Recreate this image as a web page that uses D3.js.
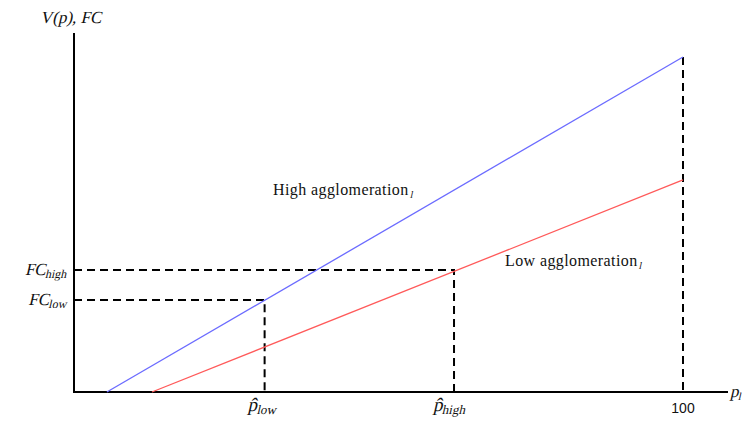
<!DOCTYPE html>
<html lang="en">
<head>
<meta charset="UTF-8">
<script src="https://cdn.jsdelivr.net/npm/d3@7"></script>
<title>agglomeration chart</title>
<style>
  body { margin: 0; background: #fff; }
  text { font-family: "Liberation Serif", "DejaVu Serif", serif; fill: #111; }
</style>
</head>
<body>
<svg width="747" height="421"></svg>
<script>
    // lines: [p at V=0, V at p=100]
    const highLine = [{ p: 5.4, v: 0 }, { p: 100, v: 100 }];
    const lowLine  = [{ p: 12.8, v: 0 }, { p: 100, v: 63.3 }];
    const fcHigh = 36.4, fcLow = 27.5;
    const pLow = 31.3, pHigh = 62.4, pMax = 100;

    const svg = d3.select("svg");

    const x = d3.scaleLinear().domain([0, 100]).range([74, 683]);
    const y = d3.scaleLinear().domain([0, 100]).range([392, 57]);

    // axes
    svg.append("line").attr("x1", x(0)).attr("x2", x(0))
        .attr("y1", 33).attr("y2", y(0))
        .attr("stroke", "#000").attr("stroke-width", 2);
    svg.append("line").attr("x1", x(0) - 1).attr("x2", 728)
        .attr("y1", y(0)).attr("y2", y(0))
        .attr("stroke", "#000").attr("stroke-width", 2);

    const line = d3.line().x(d => x(d.p)).y(d => y(d.v));

    // dashed guides
    const dashes = [
        [{ p: 0, v: fcHigh }, { p: pHigh, v: fcHigh }, { p: pHigh, v: 0 }],
        [{ p: 0, v: fcLow }, { p: pLow, v: fcLow }, { p: pLow, v: 0 }],
        [{ p: pMax, v: 100 }, { p: pMax, v: 0 }]
    ];
    svg.selectAll("path.dash").data(dashes).enter().append("path")
        .attr("class", "dash")
        .attr("d", line)
        .attr("fill", "none")
        .attr("stroke", "#000")
        .attr("stroke-width", 2)
        .attr("stroke-dasharray", "8,5");

    svg.append("path").attr("d", line(highLine))
        .attr("fill", "none").attr("stroke", "#6b6bff").attr("stroke-width", 1.3);
    svg.append("path").attr("d", line(lowLine))
        .attr("fill", "none").attr("stroke", "#ff5a5a").attr("stroke-width", 1.3);

    // italic faces are missing, so slant the regular serif by hand
    function itText(xp, yp, anchor, size) {
        return svg.append("g")
            .attr("transform", `translate(${xp},${yp}) skewX(-13)`)
            .append("text")
            .attr("text-anchor", anchor || "start")
            .style("font-size", size + "px");
    }

    itText(40, 23, "start", 17).text("V(p), FC");

    function sub(xp, yp, main, s, anchor, size, subSize) {
        const t = itText(xp, yp, anchor, size || 17);
        t.append("tspan").text(main);
        t.append("tspan").attr("dy", 3).style("font-size", (subSize || 12) + "px").text(s);
        return t;
    }
    sub(67, y(fcHigh) + 5, "FC", "high", "end");
    sub(67, y(fcLow) + 5, "FC", "low", "end");
    sub(x(pLow) - 17, 411, "p\u0302", "low", "start", 19, 13);
    sub(x(pHigh) - 21, 411, "p\u0302", "high", "start", 19, 13);
    sub(730, 397, "p", "l", "start", 17, 11);

    svg.append("text").attr("x", x(pMax)).attr("y", 413)
        .attr("text-anchor", "middle")
        .style("font-family", "'Liberation Sans', Arial, sans-serif")
        .style("font-size", "14px")
        .text("100");

    function tag(xp, yp, label) {
        const t = svg.append("text").attr("x", xp).attr("y", yp)
            .style("font-size", "16px").style("letter-spacing", "0.4px")
            .text(label);
        const w = t.node().getComputedTextLength();
        itText(xp + w + 1, yp + 3, "start", 10).text("l");
    }
    tag(273, 195, "High agglomeration");
    tag(505, 266, "Low agglomeration");
</script>
</body>
</html>
